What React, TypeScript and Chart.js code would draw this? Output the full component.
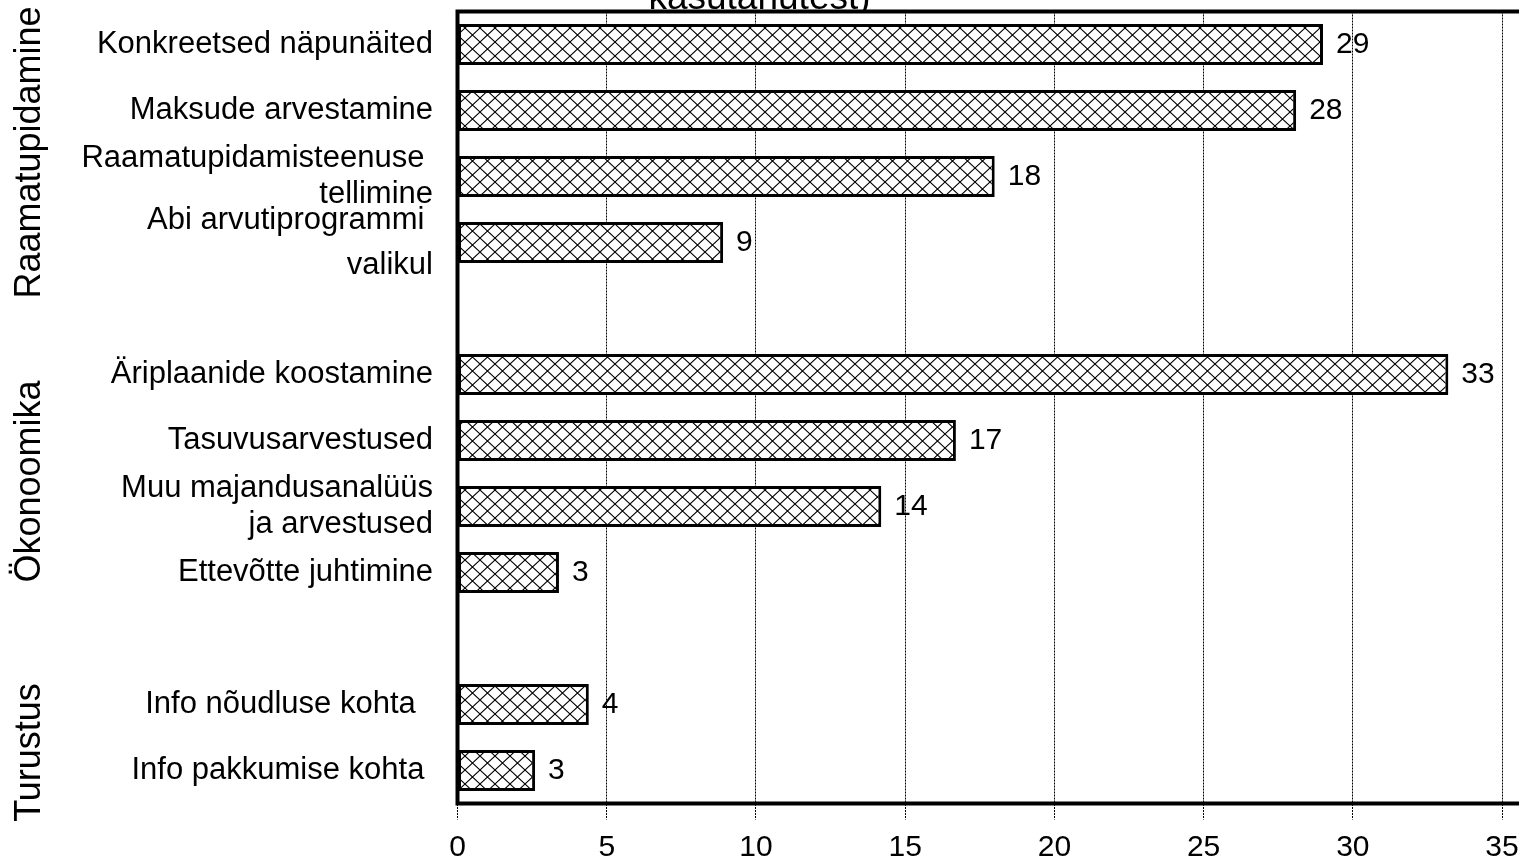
import React, { useEffect, useRef } from 'react';
import { Chart, registerables } from 'chart.js';

Chart.register(...registerables);

// ---------------- data ----------------
const categories: (string | string[])[] = [
  'Konkreetsed näpunäited',
  'Maksude arvestamine',
  ['Raamatupidamisteenuse ', 'tellimine'],
  ['Abi arvutiprogrammi ', 'valikul'],
  '',
  'Äriplaanide koostamine',
  'Tasuvusarvestused',
  ['Muu majandusanalüüs', 'ja arvestused'],
  'Ettevõtte juhtimine',
  '',
  'Info nõudluse kohta  ',
  'Info pakkumise kohta ',
];
const values: (number | null)[] = [29.0, 28.1, 18.0, 8.9, null, 33.2, 16.7, 14.2, 3.4, null, 4.4, 2.6];
const valueLabels: string[] = ['29', '28', '18', '9', '', '33', '17', '14', '3', '', '4', '3'];
const groupNames: string[] = ['Raamatupidamine', 'Ökonoomika', 'Turustus'];
const groupFirstIndex: number[] = [0, 5, 10];
const groupLastIndex: number[] = [3, 8, 11];
const xMin = 0;
const xMax = 36;
const xStep = 5;
const titleText = 'kasutanutest)';

// ---------------- styling ----------------
const FONT = '"Liberation Sans", Arial, Helvetica, sans-serif';
const VIEW_W = 1519;
const VIEW_H = 863;
const CANVAS_W = 1545;
const AXIS_LEFT = 457.5;
const AREA_TOP = 11.5;
const AREA_BOTTOM = 803.5;
const AREA_RIGHT = 1531.9;
const GROUP_OFFSETS = [9, 8, 15];

function makePattern(): CanvasPattern | string {
  const w = 15;
  const h = 14;
  const c = document.createElement('canvas');
  c.width = w;
  c.height = h;
  const g = c.getContext('2d');
  if (!g) return '#fff';
  g.fillStyle = '#fff';
  g.fillRect(0, 0, w, h);
  g.strokeStyle = '#000';
  g.lineWidth = 1.1;
  g.beginPath();
  g.moveTo(0, 0);
  g.lineTo(w, h);
  g.moveTo(w, 0);
  g.lineTo(0, h);
  g.stroke();
  const ctx = document.createElement('canvas').getContext('2d');
  const p = ctx ? ctx.createPattern(c, 'repeat') : null;
  return p || '#fff';
}

const framePlugin = {
  id: 'framePlugin',
  beforeDraw(chart: any) {
    const { ctx, chartArea: a } = chart;
    ctx.save();
    ctx.fillStyle = '#fff';
    ctx.fillRect(0, 0, chart.width, chart.height);
    ctx.fillStyle = '#000';
    ctx.font = `37px ${FONT}`;
    ctx.textAlign = 'center';
    ctx.textBaseline = 'alphabetic';
    ctx.fillText(titleText, VIEW_W / 2, 9);
    ctx.fillStyle = '#fff';
    ctx.fillRect(a.left, a.top, a.right - a.left, a.bottom - a.top);
    ctx.restore();
  },
  afterDatasetsDraw(chart: any) {
    const { ctx, chartArea: a } = chart;
    ctx.save();
    // frame
    ctx.strokeStyle = '#000';
    ctx.lineWidth = 4;
    ctx.beginPath();
    ctx.moveTo(a.left - 2, a.top);
    ctx.lineTo(a.right, a.top);
    ctx.moveTo(a.left, a.top - 2);
    ctx.lineTo(a.left, a.bottom + 2);
    ctx.moveTo(a.left - 2, a.bottom);
    ctx.lineTo(a.right, a.bottom);
    ctx.stroke();

    // value labels
    const meta = chart.getDatasetMeta(0);
    ctx.fillStyle = '#000';
    ctx.font = `30px ${FONT}`;
    ctx.textAlign = 'left';
    ctx.textBaseline = 'middle';
    meta.data.forEach((bar: any, i: number) => {
      if (values[i] == null) return;
      ctx.fillText(valueLabels[i], bar.x + 13, bar.y);
    });

    // group labels
    const yScale = chart.scales.y;
    ctx.font = `36px ${FONT}`;
    ctx.textAlign = 'center';
    ctx.textBaseline = 'middle';
    groupNames.forEach((name, g) => {
      const y1 = yScale.getPixelForTick(groupFirstIndex[g]);
      const y2 = yScale.getPixelForTick(groupLastIndex[g]);
      const cy = (y1 + y2) / 2 + GROUP_OFFSETS[g];
      ctx.save();
      ctx.translate(30, cy);
      ctx.rotate(-Math.PI / 2);
      ctx.fillText(name, 0, 0);
      ctx.restore();
    });
    ctx.restore();
  },
};

export default function App() {
  const canvasRef = useRef<HTMLCanvasElement | null>(null);

  useEffect(() => {
    const canvas = canvasRef.current;
    if (!canvas) return;
    const pattern = makePattern();
    const chart = new Chart(canvas, {
      type: 'bar',
      data: {
        labels: categories as any,
        datasets: [
          {
            data: values as any,
            backgroundColor: pattern as any,
            borderColor: '#000',
            borderWidth: 3,
            borderSkipped: false,
            barPercentage: 0.62,
            categoryPercentage: 1,
          },
        ],
      },
      options: {
        indexAxis: 'y',
        responsive: false,
        animation: false,
        devicePixelRatio: 1,
        events: [],
        layout: {
          padding: { top: AREA_TOP, left: 0, bottom: 0, right: CANVAS_W - AREA_RIGHT },
        },
        plugins: {
          legend: { display: false },
          tooltip: { enabled: false },
          title: { display: false },
        },
        scales: {
          x: {
            type: 'linear',
            min: xMin,
            max: xMax,
            grid: {
              display: true,
              drawOnChartArea: true,
              drawTicks: true,
              tickLength: 16,
              color: '#000',
              lineWidth: 1,
              tickColor: '#000',
              tickBorderDash: [2, 1],
            },
            border: { display: false, dash: [2, 1] },
            ticks: {
              stepSize: xStep,
              includeBounds: false,
              maxRotation: 0,
              padding: 10,
              color: '#000',
              font: { family: FONT, size: 30, lineHeight: 1.2 },
            },
            afterFit: (scale: any) => {
              scale.height = VIEW_H - AREA_BOTTOM;
              scale.paddingLeft = 0;
              scale.paddingRight = 0;
            },
          },
          y: {
            type: 'category',
            grid: { display: false, drawTicks: false },
            border: { display: false },
            ticks: {
              autoSkip: false,
              padding: 24.5,
              color: '#000',
              font: (ctx: any) => ({
                family: FONT,
                size: 31,
                lineHeight: ctx.index === 3 ? 1.45 : 1.18,
              }),
            },
            afterFit: (scale: any) => {
              scale.width = AXIS_LEFT;
              scale.paddingTop = 0;
              scale.paddingBottom = 0;
            },
          },
        },
      } as any,
      plugins: [framePlugin],
    });
    return () => chart.destroy();
  }, []);

  return (
    <div
      style={{
        position: 'fixed',
        left: 0,
        top: 0,
        width: VIEW_W,
        height: VIEW_H,
        overflow: 'hidden',
        background: '#fff',
      }}
    >
      <canvas ref={canvasRef} width={CANVAS_W} height={VIEW_H} style={{ display: 'block' }} />
    </div>
  );
}
